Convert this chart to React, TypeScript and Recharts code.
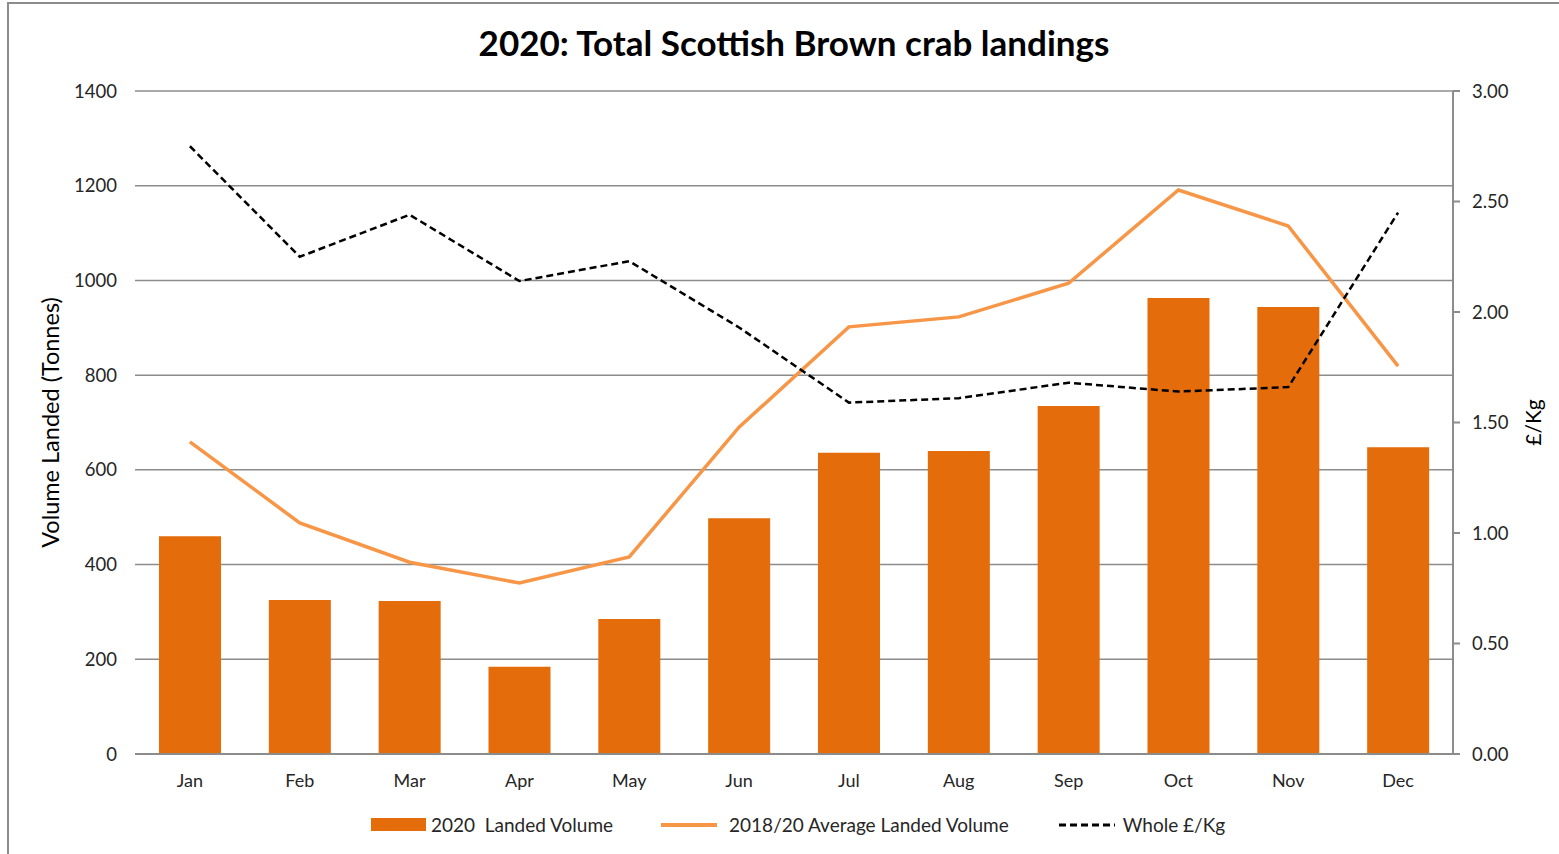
import {
  ComposedChart,
  Bar,
  Line,
  XAxis,
  YAxis,
  CartesianGrid,
} from "recharts";

const months = ["Jan", "Feb", "Mar", "Apr", "May", "Jun", "Jul", "Aug", "Sep", "Oct", "Nov", "Dec"];
const landed2020 = [460, 325, 323, 184, 285, 498, 636, 640, 735, 963, 944, 648];
const avgLanded = [659, 488, 405, 361, 416, 690, 902, 923, 994, 1191, 1115, 819];
const wholePrice = [2.75, 2.25, 2.44, 2.14, 2.23, 1.93, 1.59, 1.61, 1.68, 1.64, 1.66, 2.45];

const leftTicks = [0, 200, 400, 600, 800, 1000, 1200, 1400];
const rightTicks = [0, 0.5, 1, 1.5, 2, 2.5, 3];

const FONT = "Lato, 'Open Sans', sans-serif";
const BAR = "#E46C0A";
const LINE = "#F79646";
const GRID = "#8c8c8c";

const data = months.map((m, i) => ({
  month: m,
  landed: landed2020[i],
  avg: avgLanded[i],
  price: wholePrice[i],
}));

function LegendBox() {
  const text = { fontSize: 19, color: "#262626", fontFamily: FONT };
  return (
    <div style={{ display: "flex", alignItems: "center", paddingLeft: 371 }}>
      <span style={{ width: 55, height: 13, background: BAR, display: "inline-block" }} />
      <span style={{ ...text, marginLeft: 5 }}>2020&nbsp; Landed Volume</span>
      <span style={{ width: 56, height: 0, borderTop: `4px solid ${LINE}`, display: "inline-block", marginLeft: 48 }} />
      <span style={{ ...text, marginLeft: 12 }}>2018/20 Average Landed Volume</span>
      <svg width={56} height={6} style={{ marginLeft: 50 }}>
        <line x1={0} y1={3} x2={56} y2={3} stroke="#000" strokeWidth={3} strokeDasharray="7 4" />
      </svg>
      <span style={{ ...text, marginLeft: 8 }}>Whole £/Kg</span>
    </div>
  );
}

export default function App() {
  return (
    <div style={{ position: "absolute", left: 0, top: 0, width: 1559, height: 854, background: "#fff", fontFamily: FONT }}>
      <div
        style={{
          position: "absolute",
          left: 7,
          top: 2,
          width: 1552,
          height: 852,
          borderTop: "2px solid #8c8c8c",
          borderLeft: "2px solid #8c8c8c",
          boxSizing: "border-box",
        }}
      />
      <div
        style={{
          position: "absolute",
          left: 135,
          width: 1318,
          top: 21,
          textAlign: "center",
          fontSize: 35,
          fontWeight: 700,
          color: "#000",
        }}
      >
        2020: Total Scottish Brown crab landings
      </div>
      <div style={{ position: "absolute", left: 0, top: 0 }}>
        <ComposedChart
          width={1559}
          height={854}
          data={data}
          margin={{ top: 91, right: 46, left: 75, bottom: 40 }}
          barSize={62}
        >
          <CartesianGrid yAxisId="left" vertical={false} stroke={GRID} strokeWidth={1.5} />
          <XAxis
            dataKey="month"
            axisLine={{ stroke: GRID, strokeWidth: 2 }}
            tickLine={false}
            tick={{ fontSize: 18, fill: "#262626", fontFamily: FONT }}
            tickMargin={14}
            height={60}
          />
          <YAxis
            yAxisId="left"
            domain={[0, 1400]}
            ticks={leftTicks}
            axisLine={false}
            tickLine={false}
            tick={{ fontSize: 18.5, fill: "#262626", fontFamily: FONT }}
            tickMargin={12}
            width={60}
            label={{
              value: "Volume Landed (Tonnes)",
              angle: -90,
              position: "insideLeft",
              offset: -24,
              style: { fontSize: 23.5, fill: "#000", fontFamily: FONT, textAnchor: "middle" },
            }}
          />
          <YAxis
            yAxisId="right"
            orientation="right"
            domain={[0, 3]}
            ticks={rightTicks}
            tickFormatter={(v: number) => v.toFixed(2)}
            axisLine={{ stroke: GRID, strokeWidth: 2 }}
            tickLine={{ stroke: GRID, strokeWidth: 2 }}
            tickSize={7}
            tick={{ fontSize: 18.5, fill: "#262626", fontFamily: FONT }}
            tickMargin={12}
            width={60}
            label={{
              value: "£/Kg",
              angle: -90,
              position: "insideRight",
              offset: -21,
              style: { fontSize: 21, fill: "#000", fontFamily: FONT, textAnchor: "middle" },
            }}
          />
          <Bar yAxisId="left" dataKey="landed" fill={BAR} isAnimationActive={false} />
          <Line
            yAxisId="left"
            dataKey="avg"
            type="linear"
            stroke={LINE}
            strokeWidth={3.5}
            dot={false}
            isAnimationActive={false}
          />
          <Line
            yAxisId="right"
            dataKey="price"
            type="linear"
            stroke="#000"
            strokeWidth={2.5}
            strokeDasharray="7 4"
            dot={false}
            isAnimationActive={false}
          />
        </ComposedChart>
      </div>
      <div style={{ position: "absolute", left: 0, top: 813, width: 1559 }}>
        <LegendBox />
      </div>
    </div>
  );
}
